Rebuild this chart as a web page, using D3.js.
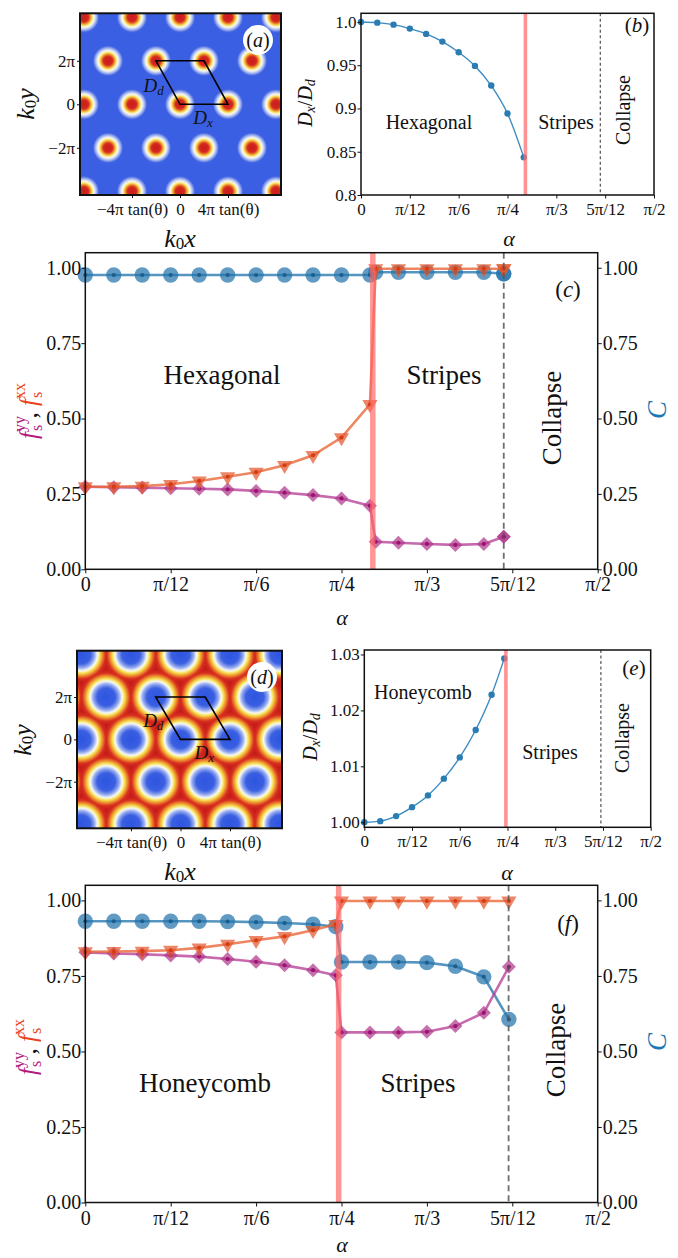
<!DOCTYPE html>
<html>
<head>
<meta charset="utf-8">
<script src="https://cdn.jsdelivr.net/npm/d3@7"></script>
<style>
  body { margin: 0; background: #fff; }
  svg { display: block; }
  text { font-family: "Liberation Serif", "DejaVu Serif", serif; fill: #111; }
</style>
</head>
<body>
<svg id="fig" width="678" height="1258"></svg>
<script>
// ---- data (angles in degrees, shown as fractions of pi) ----
const alphaTicks = [0, 15, 30, 45, 60, 75, 90];
const alphaTickLabels = ["0", "π/12", "π/6", "π/4", "π/3", "5π/12", "π/2"];
const fracTicks = [0, 0.25, 0.5, 0.75, 1.0];
const fracTickLabels = ["0.00", "0.25", "0.50", "0.75", "1.00"];

// (b) hexagonal phase, Dx/Dd
const hexRatioAlpha = [0, 5, 10, 15, 20, 25, 30, 35, 40, 45, 50];
const hexRatio = [1.000, 0.9992, 0.9969, 0.9923, 0.9862, 0.9773, 0.965, 0.9492, 0.9265, 0.8942, 0.8435];
const hexRatioTicks = [0.8, 0.85, 0.9, 0.95, 1.0];
const hexRatioTickLabels = ["0.8", "0.85", "0.9", "0.95", "1.0"];

// (c) hexagonal -> stripes
const hexAlpha = [0, 5, 10, 15, 20, 25, 30, 35, 40, 45, 50, 51, 55, 60, 65, 70, 73.5];
const hexFxx = [0.274, 0.274, 0.276, 0.282, 0.293, 0.307, 0.322, 0.345, 0.378, 0.437, 0.547,
                0.997, 0.997, 0.997, 0.997, 0.997, 0.997];
const hexFyy = [0.274, 0.272, 0.271, 0.269, 0.267, 0.265, 0.260, 0.254, 0.246, 0.235, 0.211,
                0.091, 0.088, 0.084, 0.081, 0.084, 0.108];
const hexC = [0.976, 0.976, 0.976, 0.976, 0.976, 0.976, 0.976, 0.976, 0.976, 0.976, 0.976,
              0.985, 0.985, 0.985, 0.985, 0.985, 0.980];
const hexStripes = 50.5;
const hexCollapse = 73.5;

// (e) honeycomb phase, Dx/Dd
const honeyRatioAlpha = [0, 5, 10, 15, 20, 25, 30, 35, 40, 44];
const honeyRatio = [1.0000, 1.0002, 1.0011, 1.0027, 1.0048, 1.0078, 1.0116, 1.0165, 1.0228, 1.0293];
const honeyRatioTicks = [1.00, 1.01, 1.02, 1.03];
const honeyRatioTickLabels = ["1.00", "1.01", "1.02", "1.03"];

// (f) honeycomb -> stripes
const honeyAlpha = [0, 5, 10, 15, 20, 25, 30, 35, 40, 44, 45, 50, 55, 60, 65, 70, 74.4];
const honeyFxx = [0.830, 0.831, 0.832, 0.835, 0.843, 0.855, 0.868, 0.881, 0.901, 0.921,
                  0.998, 0.998, 0.998, 0.998, 0.998, 0.998, 0.998];
const honeyFyy = [0.828, 0.824, 0.822, 0.818, 0.814, 0.806, 0.797, 0.785, 0.769, 0.752,
                  0.563, 0.563, 0.563, 0.565, 0.584, 0.628, 0.780];
const honeyC = [0.931, 0.931, 0.931, 0.931, 0.931, 0.930, 0.928, 0.925, 0.921, 0.913,
                0.796, 0.796, 0.796, 0.794, 0.782, 0.747, 0.606];
const honeyStripes = 44.5;
const honeyCollapse = 74.35;

// (a),(d) density maps: lattice rows (units of pi) and columns (units of 4 pi tan(theta))
const latticeRows = [-4, -2, 0, 2, 4];
const latticeCols = [-3, -2, -1, 0, 1, 2, 3];
const cellCorners = [[0, 0], [1, 0], [0.5, 2], [-0.5, 2]];
const mapYTicks = [-2, 0, 2];
const mapYTickLabels = ["−2π", "0", "2π"];
const mapXTicks = [-1, 0, 1];
const mapXTickLabels = ["−4π tan(θ)", "0", "4π tan(θ)"];

const SERIF = '"Liberation Serif", "DejaVu Serif", serif';
const MAG = "#b5177f", RED = "#e8421b", BLUE = "#1f78b4";
const fig = d3.select("#fig");
fig.append("rect").attr("width", 678).attr("height", 1258).attr("fill", "#fff");

function richText(g, x, y, parts, o = {}) {
  const t = g.append("text").attr("x", x).attr("y", y)
    .attr("text-anchor", o.anchor || "middle")
    .attr("dominant-baseline", "central")
    .attr("font-size", o.size || 20)
    .style("font-family", SERIF);
  if (o.rotate) t.attr("transform", `rotate(${o.rotate},${x},${y})`);
  parts.forEach((p) => {
    const s = t.append("tspan").text(p.t);
    if (p.i) s.attr("font-style", "italic");
    if (p.size) s.attr("font-size", p.size);
    if (p.dx) s.attr("dx", p.dx);
    if (p.dy) s.attr("dy", p.dy);
    if (p.fill) s.attr("fill", p.fill);
  });
  return t;
}

function styleAxis(sel, size) {
  sel.select(".domain").remove();
  sel.attr("font-family", SERIF).attr("font-size", size);
  sel.selectAll(".tick line").attr("stroke", "#111").attr("stroke-width", 1);
  sel.selectAll(".tick text").attr("fill", "#111").style("font-family", SERIF).style("font-size", size + "px");
}

function tagLabel(g, x, y, letter, size) {
  richText(g, x, y, [{ t: "(" }, { t: letter, i: 1 }, { t: ")" }], { size });
}

// ---------- density map panels ----------
function mapPanel(o) {
  const g = fig.append("g");
  const x = d3.scaleLinear().domain(o.xdom).range([o.left, o.right]);
  const y = d3.scaleLinear().domain(o.ydom).range([o.bottom, o.top]);
  const sites = [];
  latticeRows.forEach((r) => latticeCols.forEach((c) => {
    const shift = Math.abs(r / 2) % 2 === 1 ? 0.5 : 0;
    sites.push([x(c + shift), y(r)]);
  }));
  const color = d3.scaleLinear().domain(o.stops).range(o.colors).clamp(true);
  const w = Math.round(o.right - o.left), h = Math.round(o.bottom - o.top);
  const canvas = document.createElement("canvas");
  canvas.width = w; canvas.height = h;
  const ctx = canvas.getContext("2d");
  const img = ctx.createImageData(w, h);
  for (let j = 0; j < h; j++) {
    for (let i = 0; i < w; i++) {
      const px = o.left + i + 0.5, py = o.top + j + 0.5;
      let d = Infinity;
      for (const s of sites) {
        const dd = Math.hypot(px - s[0], py - s[1]);
        if (dd < d) d = dd;
      }
      const c = d3.rgb(color(d));
      const k = 4 * (j * w + i);
      img.data[k] = c.r; img.data[k + 1] = c.g; img.data[k + 2] = c.b; img.data[k + 3] = 255;
    }
  }
  ctx.putImageData(img, 0, 0);
  g.append("image").attr("x", o.left).attr("y", o.top).attr("width", w).attr("height", h)
    .attr("preserveAspectRatio", "none").attr("href", canvas.toDataURL());

  // unit cell
  g.append("path")
    .attr("d", d3.line().x((p) => x(p[0])).y((p) => y(p[1])).curve(d3.curveLinearClosed)(cellCorners))
    .attr("fill", "none").attr("stroke", "#000").attr("stroke-width", 1.6);
  richText(g, x(-0.55), y(0.9), [{ t: "D", i: 1 }, { t: "d", i: 1, size: 13, dy: 5 }], { size: 19 });
  richText(g, x(0.48), y(-0.6), [{ t: "D", i: 1 }, { t: "x", i: 1, size: 13, dy: 5 }], { size: 19 });

  g.append("rect").attr("x", o.left).attr("y", o.top)
    .attr("width", o.right - o.left).attr("height", o.bottom - o.top)
    .attr("fill", "none").attr("stroke", "#111").attr("stroke-width", 2);

  const ax = g.append("g").attr("transform", `translate(0,${o.bottom})`)
    .call(d3.axisBottom(x).tickValues(mapXTicks).tickFormat((d, i) => mapXTickLabels[i])
      .tickSize(3).tickSizeOuter(0).tickPadding(5));
  styleAxis(ax, 17);
  const ay = g.append("g").attr("transform", `translate(${o.left},0)`)
    .call(d3.axisLeft(y).tickValues(mapYTicks).tickFormat((d, i) => mapYTickLabels[i])
      .tickSize(3).tickSizeOuter(0).tickPadding(2));
  styleAxis(ay, 17);

  g.append("circle").attr("cx", o.tag[0]).attr("cy", o.tag[1]).attr("r", 15).attr("fill", "#fff");
  tagLabel(g, o.tag[0], o.tag[1], o.letter, 20);

  richText(g, o.ylab[0], o.ylab[1], [{ t: "k", i: 1 }, { t: "0", size: 17, dy: 5 }, { t: "y", i: 1, dy: -5 }],
    { size: 26, rotate: -90 });
  richText(g, o.xlab[0], o.xlab[1], [{ t: "k", i: 1 }, { t: "0", size: 17, dy: 5 }, { t: "x", i: 1, dy: -5 }],
    { size: 26 });
}

// ---------- Dx/Dd panels ----------
function ratioPanel(o) {
  const g = fig.append("g");
  const x = d3.scaleLinear().domain([0, 90]).range([o.left, o.right]);
  const y = d3.scaleLinear().domain(o.ydom).range([o.bottom, o.top]);

  g.append("line").attr("x1", x(o.collapse)).attr("x2", x(o.collapse))
    .attr("y1", o.top).attr("y2", o.bottom)
    .attr("stroke", "#444").attr("stroke-width", 1.1).attr("stroke-dasharray", "3,2.5");

  g.append("path").datum(o.vals)
    .attr("d", d3.line().x((d, i) => x(o.alpha[i])).y((d) => y(d)).curve(d3.curveMonotoneX))
    .attr("fill", "none").attr("stroke", "#3a8cc2").attr("stroke-width", 1.4);
  g.selectAll("circle.pt").data(o.vals).join("circle").attr("class", "pt")
    .attr("cx", (d, i) => x(o.alpha[i])).attr("cy", (d) => y(d)).attr("r", 3.2)
    .attr("fill", "#2a7db3");

  g.append("line").attr("x1", x(o.stripes)).attr("x2", x(o.stripes))
    .attr("y1", o.top).attr("y2", o.bottom)
    .attr("stroke", "#ff6f6f").attr("stroke-opacity", 0.75).attr("stroke-width", 3.6);

  g.append("rect").attr("x", o.left).attr("y", o.top)
    .attr("width", o.right - o.left).attr("height", o.bottom - o.top)
    .attr("fill", "none").attr("stroke", "#111").attr("stroke-width", 1.5);

  const ax = g.append("g").attr("transform", `translate(0,${o.bottom})`)
    .call(d3.axisBottom(x).tickValues(alphaTicks).tickFormat((d, i) => alphaTickLabels[i])
      .tickSize(3.5).tickSizeOuter(0).tickPadding(4));
  styleAxis(ax, 17);
  const ay = g.append("g").attr("transform", `translate(${o.left},0)`)
    .call(d3.axisLeft(y).tickValues(o.yticks).tickFormat((d, i) => o.ylabels[i])
      .tickSize(3.5).tickSizeOuter(0).tickPadding(1));
  styleAxis(ay, 17);

  o.texts.forEach((t) => richText(g, t[1], t[2], [{ t: t[0] }], { size: 20, rotate: t[3] }));
  tagLabel(g, o.tag[0], o.tag[1], o.letter, 21);
  richText(g, o.ylab[0], o.ylab[1],
    [{ t: "D", i: 1 }, { t: "x", i: 1, size: 14, dy: 5 }, { t: "/", dy: -5 }, { t: "D", i: 1 }, { t: "d", i: 1, size: 14, dy: 5 }],
    { size: 20, rotate: -90 });
  richText(g, o.xlab[0], o.xlab[1], [{ t: "α", i: 1 }], { size: 22 });
}

// ---------- superfluid fraction / contrast panels ----------
function mainPanel(o) {
  const g = fig.append("g");
  const x = d3.scaleLinear().domain([0, 90]).range([o.left, o.right]);
  const y = d3.scaleLinear().domain([0, 1.05]).range([o.bottom, o.top]);

  const series = [
    { vals: o.C, fill: "#2475ac", line: "#2a7ab0", dot: "#1b5f8e", sym: d3.symbolCircle, size: 185, rot: 0 },
    { vals: o.fyy, fill: "#b03a8e", line: "#b8449a", dot: "#9c1470", sym: d3.symbolSquare, size: 98, rot: 45 },
    { vals: o.fxx, fill: "#e4572e", line: "#e8683a", dot: "#d43d14", sym: d3.symbolTriangle, size: 100, rot: 180 },
  ];
  series.forEach((s) => {
    g.append("path").datum(s.vals)
      .attr("d", d3.line().x((d, i) => x(o.alpha[i])).y((d) => y(d)))
      .attr("fill", "none").attr("stroke", s.line).attr("stroke-opacity", 0.8).attr("stroke-width", 2.6);
    const sym = d3.symbol().type(s.sym).size(s.size);
    const marks = o.doubleLast ? s.vals.map((d, i) => i).concat([s.vals.length - 1]) : s.vals.map((d, i) => i);
    g.selectAll(null).data(marks).join("path")
      .attr("transform", (i) => `translate(${x(o.alpha[i])},${y(s.vals[i])}) rotate(${s.rot})`)
      .attr("d", sym).attr("fill", s.fill).attr("fill-opacity", 0.72);
    g.selectAll(null).data(s.vals).join("circle")
      .attr("cx", (d, i) => x(o.alpha[i])).attr("cy", (d) => y(d)).attr("r", 2.1)
      .attr("fill", s.dot);
  });

  g.append("line").attr("x1", x(o.collapse)).attr("x2", x(o.collapse))
    .attr("y1", o.top).attr("y2", o.bottom)
    .attr("stroke", "#555").attr("stroke-opacity", 0.85).attr("stroke-width", 1.8).attr("stroke-dasharray", "6,4");
  g.append("line").attr("x1", x(o.stripes)).attr("x2", x(o.stripes))
    .attr("y1", o.top).attr("y2", o.bottom)
    .attr("stroke", "#ff6464").attr("stroke-opacity", 0.68).attr("stroke-width", 5.5);

  g.append("rect").attr("x", o.left).attr("y", o.top)
    .attr("width", o.right - o.left).attr("height", o.bottom - o.top)
    .attr("fill", "none").attr("stroke", "#111").attr("stroke-width", 1.5);

  const ax = g.append("g").attr("transform", `translate(0,${o.bottom})`)
    .call(d3.axisBottom(x).tickValues(alphaTicks).tickFormat((d, i) => alphaTickLabels[i])
      .tickSize(4).tickSizeOuter(0).tickPadding(4));
  styleAxis(ax, 20);
  const ay = g.append("g").attr("transform", `translate(${o.left},0)`)
    .call(d3.axisLeft(y).tickValues(fracTicks).tickFormat((d, i) => fracTickLabels[i])
      .tickSize(4).tickSizeOuter(0).tickPadding(0));
  styleAxis(ay, 20);
  const ay2 = g.append("g").attr("transform", `translate(${o.right},0)`)
    .call(d3.axisRight(y).tickValues(fracTicks).tickFormat((d, i) => fracTickLabels[i])
      .tickSize(4).tickSizeOuter(0).tickPadding(1));
  styleAxis(ay2, 20);

  o.texts.forEach((t) => richText(g, t[1], t[2], [{ t: t[0] }], { size: 27, rotate: t[3] }));
  tagLabel(g, o.tag[0], o.tag[1], o.letter, 23);
  richText(g, o.xlab[0], o.xlab[1], [{ t: "α", i: 1 }], { size: 22 });
  richText(g, o.clab[0], o.clab[1], [{ t: "C", i: 1, fill: BLUE }], { size: 27, rotate: -90 });
  richText(g, o.flab[0], o.flab[1], [
    { t: "f", i: 1, fill: MAG }, { t: "yy", size: 16, dy: -9, fill: MAG }, { t: "s", size: 16, dx: -15, dy: 17, fill: MAG },
    { t: " , ", dy: -8 },
    { t: "f", i: 1, fill: RED }, { t: "xx", size: 16, dy: -9, fill: RED }, { t: "s", size: 16, dx: -15, dy: 17, fill: RED },
  ], { size: 25, rotate: -90 });
}

// (a) droplet crystal
mapPanel({
  left: 80, right: 281, top: 13.3, bottom: 195,
  xdom: [-2.083, 2.104], ydom: [-4.17, 4.184],
  stops: [0, 4.5, 6.5, 8, 10, 12.5, 15],
  colors: ["#c81d1d", "#d4281f", "#ee8a2c", "#f6df55", "#fcfcf4", "#a5b6f0", "#3b5fe2"],
  tag: [258, 40], letter: "a", ylab: [25, 104], xlab: [180, 238],
});

ratioPanel({
  left: 361, right: 654, top: 13.3, bottom: 195, ydom: [0.8, 1.01],
  alpha: hexRatioAlpha, vals: hexRatio, stripes: hexStripes, collapse: hexCollapse,
  yticks: hexRatioTicks, ylabels: hexRatioTickLabels,
  texts: [["Hexagonal", 429, 122, 0], ["Stripes", 566, 122, 0], ["Collapse", 623, 110, -90]],
  tag: [637, 25], letter: "b", ylab: [305, 103], xlab: [509, 238],
});

mainPanel({
  left: 85.3, right: 597.7, top: 252.7, bottom: 569.3,
  alpha: hexAlpha, fxx: hexFxx, fyy: hexFyy, C: hexC, stripes: hexStripes, collapse: hexCollapse,
  doubleLast: true,
  texts: [["Hexagonal", 222, 375, 0], ["Stripes", 444, 375, 0], ["Collapse", 552, 418, -90]],
  tag: [568, 289], letter: "c", xlab: [342, 617], clab: [657, 410], flab: [28, 411],
});

// (d) honeycomb
mapPanel({
  left: 77, right: 282, top: 650.7, bottom: 828.3,
  xdom: [-2.09, 2.05], ydom: [-4.2, 4.19],
  stops: [0, 9, 13, 16, 18.5, 21, 24, 28],
  colors: ["#2e55df", "#3a5fe2", "#93a9ef", "#fbfbf5", "#f6e04e", "#ee9030", "#d8301f", "#c41a1a"],
  tag: [262, 677], letter: "d", ylab: [22, 740], xlab: [180, 871],
});

ratioPanel({
  left: 364.3, right: 650.7, top: 650, bottom: 827.3, ydom: [0.9991, 1.0308],
  alpha: honeyRatioAlpha, vals: honeyRatio, stripes: honeyStripes, collapse: honeyCollapse,
  yticks: honeyRatioTicks, ylabels: honeyRatioTickLabels,
  texts: [["Honeycomb", 423, 692, 0], ["Stripes", 550, 752, 0], ["Collapse", 622, 738, -90]],
  tag: [634, 668], letter: "e", ylab: [310, 737], xlab: [507, 872],
});

mainPanel({
  left: 85.3, right: 597.7, top: 885.3, bottom: 1202.5,
  alpha: honeyAlpha, fxx: honeyFxx, fyy: honeyFyy, C: honeyC, stripes: honeyStripes, collapse: honeyCollapse,
  doubleLast: false,
  texts: [["Honeycomb", 205, 1083, 0], ["Stripes", 418, 1083, 0], ["Collapse", 556, 1050, -90]],
  tag: [568, 923], letter: "f", xlab: [342, 1244], clab: [657, 1042], flab: [27, 1047],
});
</script>
</body>
</html>
